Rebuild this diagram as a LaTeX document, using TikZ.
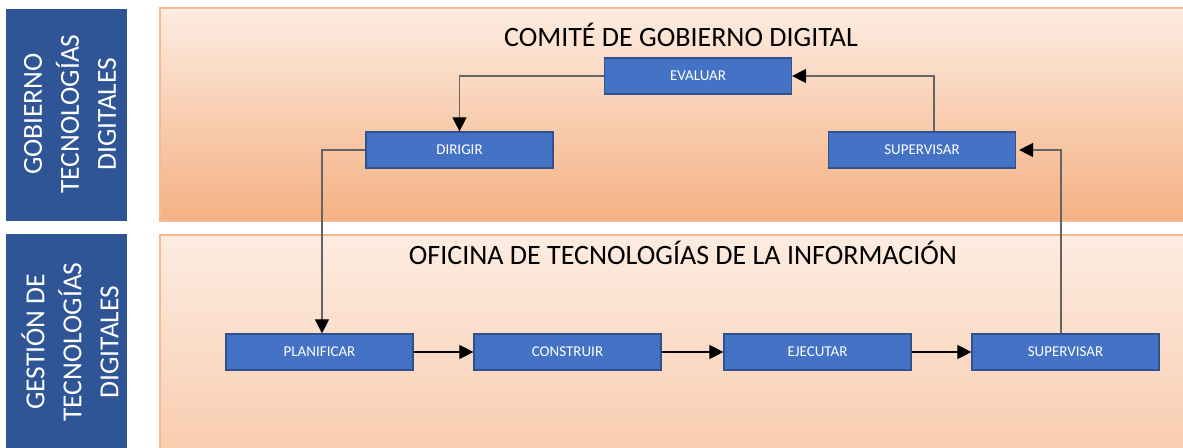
\documentclass[tikz,border=0pt]{standalone}
\usepackage{fontspec}
\setmainfont{Carlito}
\usepackage[rgb]{xcolor}
\usepackage{tikz}
\usetikzlibrary{arrows.meta}

\definecolor{sideblue}{RGB}{47,85,151}
\definecolor{boxblue}{RGB}{68,114,196}
\definecolor{boxborder}{RGB}{47,82,143}
\definecolor{paneltop}{RGB}{253,236,225}
\definecolor{panelbottom}{RGB}{244,177,131}
\definecolor{panelborder}{RGB}{246,185,145}
\definecolor{linkgray}{RGB}{100,100,100}

\tikzset{
  paso/.style={draw=boxborder, fill=boxblue, line width=1.2pt, minimum width=187pt,
    minimum height=36pt, inner sep=0pt, text=white, font=\fontsize{15}{17}\selectfont},
  nivel/.style={text=white, align=center, rotate=90, inner sep=0pt,
    font=\fontsize{27.5}{37}\selectfont},
  titulo/.style={text=black, inner sep=0pt, font=\fontsize{28}{31}\selectfont},
  franja/.style={draw=panelborder, line width=1.5pt, top color=paneltop, bottom color=panelbottom},
  flecha/.style={line width=1.1pt, -{Triangle[length=14pt,width=14pt,color=black,fill=black]}},
}

\begin{document}
\begin{tikzpicture}[x=1pt, y=-1pt]

\useasboundingbox (0,0) rectangle (1183,447);
\clip (0,0) rectangle (1183,447);

% Side labels
\fill[sideblue] (6,9) rectangle (127,221);
\fill[sideblue] (6,234) rectangle (127,460);

\node[nivel] (gobierno) at (70,114) {GOBIERNO\\TECNOLOGÍAS\\DIGITALES};
\node[nivel] (gestion) at (70,342) {GESTIÓN DE\\TECNOLOGÍAS\\DIGITALES};

% Panels
\path[franja] (160,8) rectangle (1200,221);
\path[franja, bottom color=panelbottom!80!paneltop] (160,235) rectangle (1200,560);

\node[titulo] (comite) at (681,35) {COMITÉ DE GOBIERNO DIGITAL};
\node[titulo] (oficina) at (683,253) {OFICINA DE TECNOLOGÍAS DE LA INFORMACIÓN};

%
% Comite steps
%
\node[paso] (evaluar) at (698,76) {EVALUAR};
\node[paso] (dirigir) at (459.5,150) {DIRIGIR};
\node[paso] (supgob) at (922,150) {SUPERVISAR};

%
% Oficina steps
%
\node[paso] (planificar) at (319.5,352) {PLANIFICAR};
\node[paso] (construir) at (567.5,352) {CONSTRUIR};
\node[paso] (ejecutar) at (817.5,352) {EJECUTAR};
\node[paso] (supgest) at (1065.5,352) {SUPERVISAR};

% Connectors
\draw[flecha, linkgray] (evaluar.west) -| (dirigir.north);
\draw[flecha, linkgray] ([xshift=12pt]supgob.north) |- (evaluar.east);
\draw[flecha, linkgray] (dirigir.west) -| ([xshift=2.5pt]planificar.north);
\draw[flecha, linkgray] ([xshift=-4.5pt]supgest.north) |- ([xshift=3pt]supgob.east);

\draw[flecha] (planificar) -- (construir);
\draw[flecha] (construir) -- (ejecutar);
\draw[flecha] (ejecutar) -- (supgest);

\end{tikzpicture}
\end{document}
